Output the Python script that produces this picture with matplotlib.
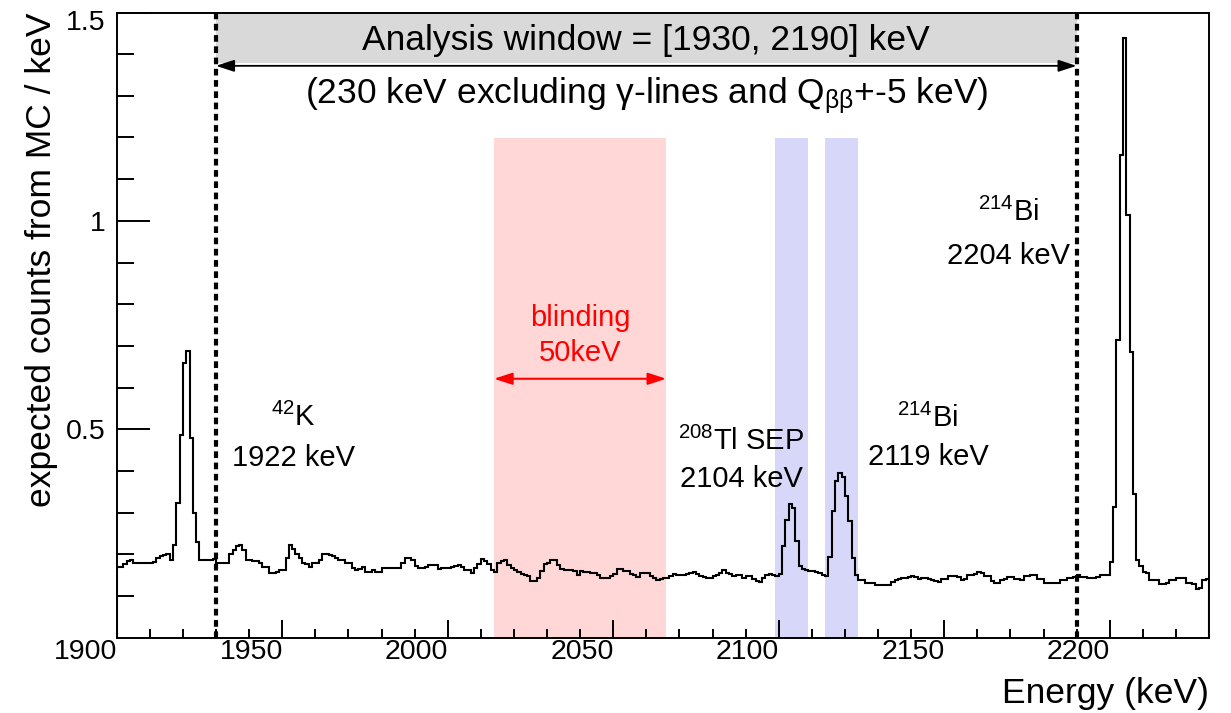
import numpy as np
import matplotlib
matplotlib.use("Agg")
import matplotlib.pyplot as plt
from matplotlib import transforms

plt.rcParams['font.family'] = ['Liberation Sans', 'DejaVu Sans']
plt.rcParams['mathtext.fontset'] = 'custom'
plt.rcParams['mathtext.rm'] = 'Liberation Sans'
plt.rcParams['mathtext.it'] = 'Liberation Sans:italic'
plt.rcParams['mathtext.bf'] = 'Liberation Sans:bold'

# ---------------- data ----------------
energy_start = 1900   # keV, first bin edge
bin_width = 1         # keV
x_max = 2230
y_max = 1.5

counts = [
    0.170, 0.170, 0.176, 0.183, 0.186, 0.180, 0.179, 0.179, 0.180, 0.180,
    0.180, 0.181, 0.190, 0.195, 0.199, 0.200, 0.187, 0.222, 0.322, 0.486,
    0.658, 0.688, 0.478, 0.299, 0.230, 0.187, 0.187, 0.185, 0.186, 0.189,
    0.180, 0.180, 0.178, 0.178, 0.200, 0.210, 0.220, 0.222, 0.210, 0.187,
    0.187, 0.184, 0.184, 0.178, 0.170, 0.170, 0.156, 0.155, 0.157, 0.163,
    0.163, 0.190, 0.223, 0.213, 0.200, 0.190, 0.180, 0.176, 0.170, 0.178,
    0.178, 0.186, 0.200, 0.200, 0.198, 0.196, 0.192, 0.186, 0.186, 0.178,
    0.178, 0.168, 0.163, 0.165, 0.170, 0.157, 0.157, 0.162, 0.157, 0.158,
    0.166, 0.166, 0.166, 0.166, 0.166, 0.168, 0.179, 0.190, 0.190, 0.186,
    0.171, 0.166, 0.168, 0.170, 0.174, 0.174, 0.175, 0.164, 0.168, 0.167,
    0.166, 0.170, 0.171, 0.175, 0.170, 0.163, 0.161, 0.155, 0.168, 0.176,
    0.189, 0.183, 0.176, 0.161, 0.158, 0.179, 0.183, 0.185, 0.175, 0.166,
    0.162, 0.158, 0.153, 0.151, 0.148, 0.135, 0.135, 0.143, 0.159, 0.177,
    0.180, 0.185, 0.185, 0.175, 0.164, 0.163, 0.163, 0.163, 0.160, 0.150,
    0.160, 0.158, 0.158, 0.155, 0.155, 0.150, 0.143, 0.143, 0.143, 0.147,
    0.153, 0.164, 0.164, 0.160, 0.160, 0.153, 0.150, 0.145, 0.155, 0.155,
    0.155, 0.147, 0.143, 0.139, 0.140, 0.143, 0.143, 0.147, 0.152, 0.150,
    0.150, 0.150, 0.153, 0.156, 0.158, 0.153, 0.147, 0.145, 0.143, 0.143,
    0.147, 0.150, 0.155, 0.161, 0.155, 0.152, 0.147, 0.150, 0.150, 0.144,
    0.147, 0.147, 0.141, 0.135, 0.133, 0.143, 0.150, 0.152, 0.150, 0.147,
    0.152, 0.219, 0.281, 0.320, 0.312, 0.232, 0.172, 0.164, 0.162, 0.160,
    0.160, 0.158, 0.155, 0.149, 0.147, 0.193, 0.304, 0.376, 0.396, 0.386,
    0.340, 0.280, 0.192, 0.150, 0.137, 0.137, 0.131, 0.131, 0.131, 0.126,
    0.126, 0.126, 0.126, 0.126, 0.133, 0.138, 0.140, 0.143, 0.143, 0.146,
    0.147, 0.145, 0.140, 0.142, 0.143, 0.140, 0.137, 0.135, 0.133, 0.141,
    0.141, 0.148, 0.148, 0.148, 0.146, 0.138, 0.140, 0.150, 0.150, 0.153,
    0.157, 0.155, 0.148, 0.148, 0.135, 0.130, 0.130, 0.138, 0.140, 0.146,
    0.146, 0.141, 0.141, 0.138, 0.148, 0.148, 0.150, 0.149, 0.141, 0.141,
    0.132, 0.132, 0.130, 0.130, 0.130, 0.138, 0.138, 0.144, 0.144, 0.146,
    0.150, 0.146, 0.146, 0.144, 0.144, 0.144, 0.146, 0.150, 0.150, 0.150,
    0.181, 0.313, 0.714, 1.157, 1.440, 1.013, 0.685, 0.345, 0.186, 0.172,
    0.157, 0.155, 0.139, 0.139, 0.137, 0.128, 0.128, 0.130, 0.139, 0.139,
    0.144, 0.144, 0.143, 0.130, 0.130, 0.128, 0.116, 0.118, 0.138, 0.140,
]

analysis_window = (1930, 2190)
blinding_window = (2014, 2066)
excluded_windows = [(2099, 2109), (2114, 2124)]
shade_top = 1.2
band_bottom = 1.38

xtick_values = [1900, 1950, 2000, 2050, 2100, 2150, 2200]
xtick_labels = ['1900', '1950', '2000', '2050', '2100', '2150', '2200']
ytick_values = [0.5, 1.0, 1.5]
ytick_labels = ['0.5', '1', '1.5']

peak_names = [r'$\mathregular{^{42}}$K', r'$\mathregular{^{208}}$Tl SEP',
              r'$\mathregular{^{214}}$Bi', r'$\mathregular{^{214}}$Bi']
peak_energies = ['1922 keV', '2104 keV', '2119 keV', '2204 keV']
peak_label_x = [1953.5, 2088.7, 2145.1, 2169.5]
peak_name_y = [0.528, 0.470, 0.526, 1.020]
peak_energy_y = [0.430, 0.381, 0.434, 0.916]

# ---------------- figure ----------------
W, H = 1231, 713
fig = plt.figure(figsize=(W / 100, H / 100), dpi=100)
ax = fig.add_axes([116.7 / W, 1 - 637.5 / H, (1209 - 116.7) / W, (637.5 - 12.5) / H])

edges = energy_start + bin_width * np.arange(len(counts) + 1)

# shaded regions
ax.axvspan(*blinding_window, ymin=0, ymax=shade_top / y_max, color='#ffd7d7', lw=0, zorder=1)
for lo, hi in excluded_windows:
    ax.axvspan(lo, hi, ymin=0, ymax=shade_top / y_max, color='#d7d7f9', lw=0, zorder=1)
ax.axvspan(*analysis_window, ymin=band_bottom / y_max, ymax=1, color='#d9d9d9', lw=0, zorder=1)

# histogram
ax.stairs(counts, edges, color='black', lw=1.5, zorder=3)

# analysis window dashed lines
for xv in analysis_window:
    ax.axvline(xv, color='black', lw=3.0, linestyle=(0, (1.6, 1.1)), zorder=4)

# analysis window arrow
ax.annotate('', xy=(analysis_window[1], 1.372), xytext=(analysis_window[0], 1.372),
            arrowprops=dict(arrowstyle='<|-|>,head_length=0.55,head_width=0.18',
                            color='black', lw=1.3, shrinkA=0, shrinkB=0,
                            mutation_scale=20), zorder=5)
ax.text(sum(analysis_window) / 2, 1.432, 'Analysis window = [1930, 2190] keV',
        ha='center', va='center', fontsize=25.5, zorder=6)
ax.text(sum(analysis_window) / 2, 1.300,
        r'(230 keV excluding γ-lines and Q$\mathregular{_{ββ}}$+-5 keV)',
        ha='center', va='center', fontsize=25.5, zorder=6)

# blinding annotation
bl_mid = sum(blinding_window) / 2
ax.annotate('', xy=(blinding_window[1], 0.621), xytext=(blinding_window[0], 0.621),
            arrowprops=dict(arrowstyle='<|-|>,head_length=0.55,head_width=0.18',
                            color='red', lw=1.5, shrinkA=0, shrinkB=0,
                            mutation_scale=20), zorder=5)
ax.text(bl_mid, 0.766, 'blinding', color='red', ha='center', va='center', fontsize=21)
ax.text(bl_mid, 0.682, '50keV', color='red', ha='center', va='center', fontsize=21)

# peak labels
for name, en, xx, yn, ye in zip(peak_names, peak_energies, peak_label_x, peak_name_y, peak_energy_y):
    ax.text(xx, yn, name, ha='center', va='center', fontsize=21, zorder=6)
    ax.text(xx, ye, en, ha='center', va='center', fontsize=21, zorder=6)

# axes setup
ax.set_xlim(energy_start, x_max)
ax.set_ylim(0, y_max)
ax.set_xticks(xtick_values)
ax.set_xticklabels(xtick_labels)
ax.set_xticks(np.arange(1910, x_max, 10), minor=True)
ax.set_yticks(ytick_values)
ax.set_yticklabels(ytick_labels)
ax.set_yticks(np.arange(0.1, 1.5, 0.1), minor=True)

ax.tick_params(axis='both', which='both', direction='in', top=False, right=False,
               width=1.4, labelsize=20.5)
ax.tick_params(axis='x', which='major', length=13, pad=1)
ax.tick_params(axis='x', which='minor', length=6.8)
ax.tick_params(axis='y', which='major', length=24, pad=8)
ax.tick_params(axis='y', which='minor', length=12)
for sp in ax.spines.values():
    sp.set_linewidth(1.4)

# x tick labels sit left of their ticks in the reference
shift = transforms.ScaledTranslation(-31 / 100, 0, fig.dpi_scale_trans)
for lab in ax.get_xticklabels():
    lab.set_transform(lab.get_transform() + shift)
# top y label sits a little below its tick
ylabs = ax.get_yticklabels()
down = transforms.ScaledTranslation(0, -8 / 100, fig.dpi_scale_trans)
ylabs[-1].set_transform(ylabs[-1].get_transform() + down)

fig.text(42 / W, 1 - 12.5 / H, 'expected counts from MC / keV', rotation=90,
         ha='center', va='top', fontsize=25.5)
fig.text(1209 / W, 1 - 703 / H, 'Energy (keV)', ha='right', va='baseline', fontsize=25.5)

fig.savefig('out.png', dpi=100)
